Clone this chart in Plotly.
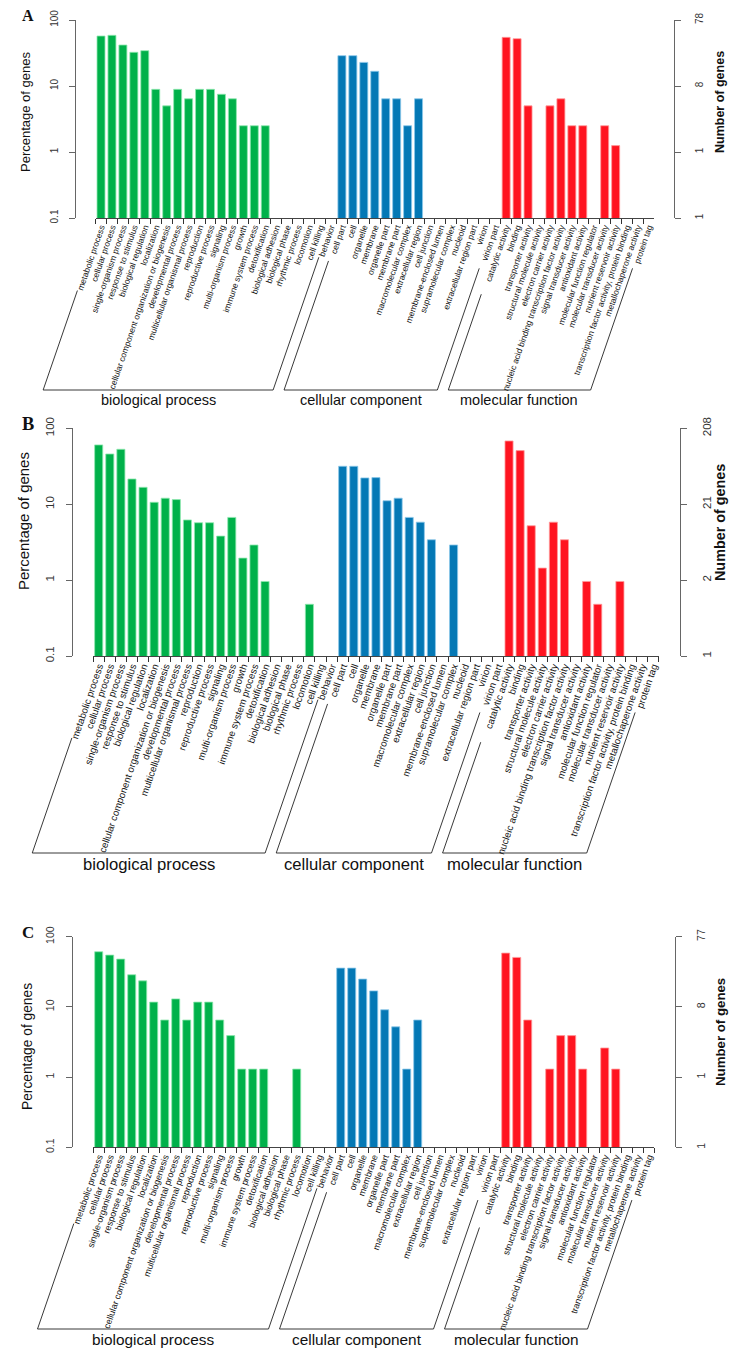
import math
import plotly.graph_objects as go

bp_terms = ["metabolic process", "cellular process", "single-organism process", "response to stimulus",
            "biological regulation", "localization", "cellular component organization or biogenesis",
            "developmental process", "multicellular organismal process", "reproduction",
            "reproductive process", "signaling", "multi-organism process", "growth",
            "immune system process", "detoxification", "biological adhesion", "biological phase",
            "rhythmic process", "locomotion", "cell killing", "behavior"]
cc_terms = ["cell part", "cell", "organelle", "membrane", "organelle part", "membrane part",
            "macromolecular complex", "extracellular region", "cell junction", "membrane-enclosed lumen",
            "supramolecular complex", "nucleoid", "extracellular region part", "virion", "virion part"]
mf_terms = ["catalytic activity", "binding", "transporter activity", "structural molecule activity",
            "electron carrier activity", "nucleic acid binding transcription factor activity",
            "signal transducer activity", "antioxidant activity", "molecular function regulator",
            "molecular transducer activity", "nutrient reservoir activity",
            "transcription factor activity, protein binding", "metallochaperone activity", "protein tag"]
group_names = ["biological process", "cellular component", "molecular function"]

# percentage of genes (None = no bar)
bp_a = [57.2, 58.6, 41.8, 32.4, 34.3, 8.9, 5.0, 8.9, 6.4, 8.9, 8.9, 7.5, 6.4, 2.5, 2.5, 2.5,
        None, None, None, None, None, None]
cc_a = [28.8, 28.8, 22.8, 16.7, 6.4, 6.4, 2.5, 6.4, None, None, None, None, None, None, None]
mf_a = [54.6, 52.1, 5.0, None, 5.0, 6.4, 2.5, 2.5, None, 2.5, 1.25, None, None, None]

bp_b = [60.4, 45.9, 52.9, 21.5, 16.7, 10.6, 12.0, 11.5, 6.2, 5.7, 5.7, 3.8, 6.7, 1.95, 2.9, 0.96,
        None, None, None, 0.48, None, None]
cc_b = [31.6, 31.6, 22.2, 22.4, 11.1, 12.0, 6.7, 5.8, 3.4, None, 2.9, None, None, None, None]
mf_b = [68.1, 50.8, 5.2, 1.44, 5.8, 3.4, None, 0.96, 0.48, None, 0.96, None, None, None]

bp_c = [61.1, 54.7, 48.0, 28.7, 23.5, 11.7, 6.5, 13.0, 6.5, 11.7, 11.7, 6.5, 3.9, 1.3, 1.3, 1.3,
        None, None, 1.3, None, None, None]
cc_c = [35.7, 35.7, 24.9, 16.9, 9.1, 5.2, 1.3, 6.5, None, None, None, None, None, None, None]
mf_c = [58.4, 50.7, 6.5, None, 1.3, 3.9, 3.9, 1.3, None, 2.6, 1.3, None, None, None]

pct_ticks = [0.1, 1, 10, 100]
pct_labels = ["0.1", "1", "10", "100"]
count_labels_a = ["1", "1", "8", "78"]
count_labels_b = ["1", "2", "21", "208"]
count_labels_c = ["1", "1", "8", "77"]

W, H = 737, 1354
OFF = 8  # page body margin
colors = ["#00B14A", "#0478B5", "#FF1420"]
edges = ["#8FE8B0", "#8CC8EA", "#FF9A9A"]
ANG = 71
FONT = "Liberation Sans, Arial"

panels = [
    dict(tag="A", vals=[bp_a, cc_a, mf_a], right=count_labels_a, x0=101, dx=10.95, top=20, bot=218,
         lax=75, rax=674, brk=390, s=1.0, ylab=(25, 112), nlab=(720, 102), tag_xy=(28, 16)),
    dict(tag="B", vals=[bp_b, cc_b, mf_b], right=count_labels_b, x0=98.7, dx=11.09, top=428.3, bot=656,
         lax=71.7, rax=680, brk=853, s=1.15, ylab=(23, 521), nlab=(720, 523), tag_xy=(28, 424)),
    dict(tag="C", vals=[bp_c, cc_c, mf_c], right=count_labels_c, x0=98.7, dx=11.0, top=936.7, bot=1147.3,
         lax=71.7, rax=675, brk=1329, s=1.06, ylab=(27, 1047), nlab=(720, 1032), tag_xy=(28, 932)),
]

def fx(x):
    return (x - OFF) / W

def fy(y):
    return 1 - (y - OFF) / H

all_terms = bp_terms + cc_terms + mf_terms
groups = [bp_terms, cc_terms, mf_terms]

fig = go.Figure()
layout = dict(width=W, height=H, margin=dict(l=0, r=0, t=0, b=0, autoexpand=False),
              plot_bgcolor="white", paper_bgcolor="white", barmode="overlay", bargap=0.27,
              showlegend=False, font=dict(family=FONT, color="#111"))
shapes, annotations = [], []
ux, uy = -math.cos(math.radians(ANG)), math.sin(math.radians(ANG))

def note(text, x, y, size, angle=0, family=FONT):
    annotations.append(dict(text=text, xref="paper", yref="paper", x=fx(x), y=fy(y), textangle=angle,
                            xanchor="center", yanchor="middle", showarrow=False,
                            font=dict(family=family, size=size, color="#111")))

for i, p in enumerate(panels, start=1):
    xname = "x" if i == 1 else f"x{i}"
    yl = "y" if i == 1 else f"y{2 * i - 1}"
    yr = f"y{2 * i}"
    s = p["s"]
    lab_fs = 8.5 * s
    for terms, vals, c, e in zip(groups, p["vals"], colors, edges):
        fig.add_trace(go.Bar(x=terms, y=vals, xaxis=xname, yaxis=yl, marker_color=c,
                             marker_line=dict(color=e, width=0.8), hoverinfo="x+y"))
    fig.add_trace(go.Scatter(x=[bp_terms[0]], y=[1], xaxis=xname, yaxis=yr, mode="markers",
                             marker=dict(opacity=0), hoverinfo="skip"))

    layout["xaxis" + ("" if i == 1 else str(i))] = dict(
        domain=[fx(p["x0"] - p["dx"] / 2), fx(p["x0"] + 50.5 * p["dx"])], range=[-0.5, 50.5],
        type="category", categoryorder="array", categoryarray=all_terms, anchor=yl,
        tickmode="linear", tick0=0, dtick=1,
        tickangle=-ANG, tickson="boundaries", ticks="outside", ticklen=5, tickcolor="#333",
        showline=True, linecolor="#444", linewidth=1, showgrid=False, zeroline=False,
        tickfont=dict(family=FONT, size=lab_fs, color="#111"))
    ycommon = dict(domain=[fy(p["bot"]), fy(p["top"])], type="log", range=[-1, 2], anchor="free",
                   tickvals=pct_ticks, tickangle=-90, ticks="outside", ticklen=6, tickcolor="#666",
                   showline=True, linecolor="#666", linewidth=1, showgrid=False, zeroline=False,
                   tickfont=dict(size=10 * s, color="#333"))
    layout["yaxis" + ("" if i == 1 else str(2 * i - 1))] = dict(ycommon, position=fx(p["lax"]),
                                                               ticktext=pct_labels, ticklabelstandoff=7)
    layout["yaxis" + str(2 * i)] = dict(ycommon, position=fx(p["rax"]), side="right",
                                        overlaying=yl, ticktext=p["right"], ticklabelstandoff=10)

    # group brackets under the slanted labels
    ya = p["bot"] + 4
    t_bot = (p["brk"] - ya) / uy
    start = 0
    for terms, name in zip(groups, group_names):
        ends = []
        for k in (start, start + len(terms) - 1):
            xa = p["x0"] + k * p["dx"]
            lab_len = 0.46 * lab_fs * len(all_terms[k]) + 6
            top_pt = (xa + lab_len * ux, ya + lab_len * uy)
            bot_pt = (xa + t_bot * ux, p["brk"])
            ends.append(bot_pt)
            shapes.append(dict(type="line", xref="paper", yref="paper",
                               x0=fx(top_pt[0]), y0=fy(top_pt[1]), x1=fx(bot_pt[0]), y1=fy(bot_pt[1]),
                               line=dict(color="#222", width=0.9)))
        b0, b1 = ends
        shapes.append(dict(type="line", xref="paper", yref="paper", x0=fx(b0[0]), y0=fy(b0[1]),
                           x1=fx(b1[0]), y1=fy(b1[1]), line=dict(color="#222", width=0.9)))
        note(name, (b0[0] + b1[0]) / 2, p["brk"] + 10 * s, 14.5 * s)
        start += len(terms)

    note("Percentage of genes", p["ylab"][0], p["ylab"][1], 13 * s, -90)
    note("<b>Number of genes</b>", p["nlab"][0], p["nlab"][1], 12.5 * s, -90)
    note("<b>" + p["tag"] + "</b>", p["tag_xy"][0], p["tag_xy"][1], 16 * s,
         family="Liberation Serif, Times New Roman")

layout["shapes"] = shapes
layout["annotations"] = annotations
fig.update_layout(**layout)
fig.write_html("out.html")
